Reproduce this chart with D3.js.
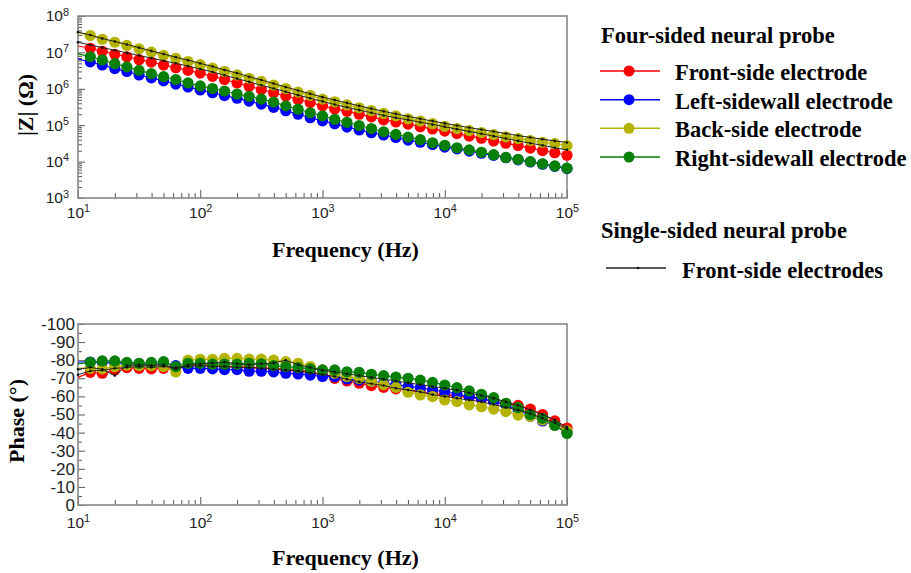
<!DOCTYPE html>
<html>
<head>
<meta charset="utf-8">
<script src="https://cdn.jsdelivr.net/npm/d3@7"></script>
<style>
  body { margin: 0; background: #fff; }
  svg { display: block; }
</style>
</head>
<body>
<script>

// frequencies (Hz), 10 points per decade
var freq = [10, 12.6, 15.8, 20, 25.1, 31.6, 39.8, 50.1, 63.1, 79.4,
  100, 126, 158, 200, 251, 316, 398, 501, 631, 794,
  1000, 1259, 1585, 1995, 2512, 3162, 3981, 5012, 6310, 7943,
  10000, 12589, 15849, 19953, 25119, 31623, 39811, 50119, 63096, 79433, 100000];

// |Z| in ohm, four-sided probe
var magFront = [1.5e7, 1.3e7, 1.07e7, 8.9e6, 7.6e6, 6.3e6, 5.4e6, 4.5e6, 3.8e6, 3.2e6,
  2.7e6, 2.2e6, 1.8e6, 1.45e6, 1.17e6, 9.5e5, 7.8e5, 6.3e5, 5.1e5, 4.2e5,
  3.4e5, 2.8e5, 2.4e5, 2.0e5, 1.7e5, 1.4e5, 1.23e5, 1.07e5, 9.1e4, 7.9e4,
  6.9e4, 5.9e4, 5.0e4, 4.4e4, 3.7e4, 3.2e4, 2.75e4, 2.35e4, 2.0e4, 1.75e4, 1.5e4];
var magLeft = [6.6e6, 5.5e6, 4.5e6, 3.6e6, 3.0e6, 2.4e6, 2.0e6, 1.66e6, 1.35e6, 1.12e6,
  9.3e5, 7.8e5, 6.5e5, 5.5e5, 4.6e5, 3.8e5, 3.1e5, 2.5e5, 2.0e5, 1.6e5,
  1.32e5, 1.1e5, 8.9e4, 7.4e4, 6.2e4, 5.4e4, 4.6e4, 3.9e4, 3.4e4, 2.95e4,
  2.5e4, 2.25e4, 1.95e4, 1.7e4, 1.48e4, 1.28e4, 1.12e4, 9.8e3, 8.5e3, 7.4e3, 6.4e3];
var magBack = [3.5e7, 2.9e7, 2.3e7, 1.9e7, 1.55e7, 1.26e7, 1.02e7, 8.3e6, 6.9e6, 5.6e6,
  4.6e6, 3.7e6, 3.0e6, 2.4e6, 1.95e6, 1.6e6, 1.26e6, 1.02e6, 8.1e5, 6.6e5,
  5.2e5, 4.4e5, 3.6e5, 3.0e5, 2.5e5, 2.1e5, 1.8e5, 1.5e5, 1.3e5, 1.1e5,
  9.3e4, 8.1e4, 7.1e4, 6.3e4, 5.5e4, 4.8e4, 4.3e4, 3.8e4, 3.4e4, 3.1e4, 2.75e4];
var magRight = [9.1e6, 7.6e6, 6.2e6, 4.9e6, 4.0e6, 3.2e6, 2.6e6, 2.15e6, 1.8e6, 1.45e6,
  1.2e6, 1.02e6, 8.7e5, 7.2e5, 6.2e5, 5.2e5, 4.3e5, 3.4e5, 2.75e5, 2.2e5,
  1.8e5, 1.45e5, 1.2e5, 9.8e4, 8.1e4, 6.6e4, 5.6e4, 4.7e4, 4.0e4, 3.3e4,
  2.8e4, 2.4e4, 2.1e4, 1.8e4, 1.55e4, 1.3e4, 1.15e4, 1.0e4, 8.7e3, 7.6e3, 6.6e3];

// |Z| single-sided probe, front-side electrodes
var magSingleA = [3.6e7, 3.0e7, 2.4e7, 2.0e7, 1.65e7, 1.35e7, 1.1e7, 9.0e6, 7.4e6, 6.1e6,
  5.0e6, 4.1e6, 3.3e6, 2.7e6, 2.15e6, 1.75e6, 1.4e6, 1.12e6, 9.0e5, 7.3e5,
  5.9e5, 4.9e5, 4.1e5, 3.4e5, 2.85e5, 2.4e5, 2.05e5, 1.75e5, 1.5e5, 1.3e5,
  1.12e5, 9.8e4, 8.6e4, 7.6e4, 6.7e4, 5.9e4, 5.2e4, 4.6e4, 4.1e4, 3.7e4, 3.35e4];
var magSingleB = [1.9e7, 1.6e7, 1.35e7, 1.15e7, 9.7e6, 8.2e6, 7.0e6, 5.9e6, 5.0e6, 4.2e6,
  3.5e6, 2.9e6, 2.35e6, 1.9e6, 1.55e6, 1.25e6, 1.02e6, 8.3e5, 6.7e5, 5.5e5,
  4.5e5, 3.7e5, 3.1e5, 2.6e5, 2.2e5, 1.85e5, 1.6e5, 1.4e5, 1.2e5, 1.05e5,
  9.0e4, 7.8e4, 6.7e4, 5.8e4, 5.0e4, 4.3e4, 3.7e4, 3.2e4, 2.8e4, 2.4e4, 2.1e4];

// phase in degrees, four-sided probe
var phFront = [-70.5, -73.3, -72.8, -74.6, -75.9, -75.5, -75.2, -75.5, -76, -77,
  -77.5, -77, -76.5, -76.5, -76, -75.8, -75.5, -75, -74.5, -73.5,
  -72, -70, -68.5, -67.3, -66, -65, -64.2, -63.5, -62.5, -61.5,
  -60.8, -60.3, -59.5, -58.5, -57.2, -56, -55, -53, -50, -46.5, -42.5];
var phLeft = [-79, -79, -78.8, -78.5, -78.3, -78, -77.8, -77.8, -77, -75.5,
  -75.5, -75.2, -74.8, -74.8, -73.9, -73.9, -73.6, -72.8, -72.4, -71.8,
  -71, -70.9, -69.6, -69, -68.3, -67.3, -66.5, -65.4, -64.8, -63.5,
  -62.7, -61.2, -59.9, -59, -57.1, -55.3, -52.5, -49, -46.4, -44, -40.5];
var phBack = [-75.7, -75.5, -75.2, -76.5, -77.3, -77, -77, -76.5, -73.5, -80,
  -80.5, -80.5, -81, -81, -80.6, -80.6, -80, -79.2, -78.3, -76.5,
  -74.6, -72.8, -71, -70, -68.3, -66.5, -65, -62.3, -60.8, -59.9,
  -58, -57.1, -55.3, -54.3, -53, -51.6, -49.7, -49, -47, -44, -41];
var phRight = [-78, -78.8, -79.6, -79.6, -78.8, -78.3, -78.8, -79.2, -76.5, -78.3,
  -78.3, -77.8, -77.8, -77.8, -78.3, -78, -77, -76.5, -75.9, -75.2,
  -74.6, -74.6, -73.6, -73.3, -72.2, -71.5, -70.7, -70, -69, -67.7,
  -66.3, -64.8, -63, -61.2, -59.3, -56.2, -53.8, -50, -47.9, -44, -39.5];

// phase single-sided probe
var phSingleA = [-75, -76, -75, -71.5, -77, -77.5, -77, -77.5, -75, -77.5,
  -78, -78.5, -79, -78, -77.5, -78, -78.5, -80, -77.5, -76,
  -74.5, -73.5, -72.5, -71.5, -70.5, -69.5, -68.5, -67.5, -66.5, -65.5,
  -64.5, -63.5, -62, -60.5, -59, -57, -55, -52.5, -50, -47, -43];
var phSingleB = [-72, -74, -74.5, -75.5, -76, -76.5, -76, -76.5, -76, -76.5,
  -77, -76.5, -76.5, -76, -76, -75.5, -75, -74.5, -74, -73,
  -72, -71, -69.5, -68, -67, -66, -64.5, -63.5, -62.5, -61,
  -60, -59, -58, -57, -55.5, -54, -52.5, -50.5, -48, -45.5, -42];

var seriesNames = ["Front-side electrode", "Left-sidewall electrode", "Back-side electrode", "Right-sidewall electrode"];
var seriesColors = ["#ff0000", "#0000ff", "#b4b400", "#088008"];
var singleName = "Front-side electrodes";

var freqTicks = [10, 100, 1000, 10000, 100000];
var magTicks = [1e3, 1e4, 1e5, 1e6, 1e7, 1e8];
var phaseTicks = [0, -10, -20, -30, -40, -50, -60, -70, -80, -90, -100];
var phaseMinor = [-5, -15, -25, -35, -45, -55, -65, -75, -85, -95];

var width = 911, height = 573;
var serif = "'Liberation Serif','Times New Roman',serif";
var sans = "'Liberation Sans',Arial,sans-serif";

var svg = d3.select("body").append("svg")
  .attr("width", width)
  .attr("height", height);

var left = 78, right = 567;
var x = d3.scaleLog().domain([10, 1e5]).range([left, right]);
var freqMinor = x.ticks().filter(function(d) { return freqTicks.indexOf(d) < 0; });

function powerLabel(sel) {
  sel.each(function(d) {
    var t = d3.select(this).text("");
    t.append("tspan").text("10");
    t.append("tspan").attr("dy", "-0.55em").attr("font-size", "0.7em")
      .text(Math.round(Math.log10(d)));
  });
}

function styleAxis(g) {
  g.select(".domain").remove();
  g.selectAll("line").attr("stroke", "#555").attr("stroke-width", 1);
  g.selectAll("text").attr("fill", "#222").attr("font-family", sans).attr("font-size", "15.5px");
}

function drawPanel(p) {
  var g = svg.append("g");
  var y = p.y;

  // x ticks (pointing inward)
  g.append("g").attr("transform", "translate(0," + p.bottom + ")")
    .call(d3.axisBottom(x).tickValues(freqMinor).tickSize(-5).tickFormat(""))
    .call(styleAxis);
  var xa = g.append("g").attr("transform", "translate(0," + p.bottom + ")")
    .call(d3.axisBottom(x).tickValues(freqTicks).tickSize(-8).tickPadding(p.xPad))
    .call(styleAxis);
  xa.selectAll("text").call(powerLabel);

  // y ticks
  g.append("g").attr("transform", "translate(" + left + ",0)")
    .call(d3.axisLeft(y).tickValues(p.yMinor).tickSize(-4).tickFormat(""))
    .call(styleAxis);
  var ya = g.append("g").attr("transform", "translate(" + left + ",0)")
    .call(d3.axisLeft(y).tickValues(p.yMajor).tickSize(-7).tickPadding(p.yPad)
      .tickFormat(p.log ? null : function(d) { return String(d); }))
    .call(styleAxis);
  if (p.log) ya.selectAll("text").call(powerLabel);
  else ya.selectAll("text").attr("font-size", "17px");

  // frame
  g.append("rect")
    .attr("x", left).attr("y", p.top)
    .attr("width", right - left).attr("height", p.bottom - p.top)
    .attr("fill", "none").attr("stroke", "#888").attr("stroke-width", 1.6);

  var line = d3.line()
    .x(function(d, i) { return x(freq[i]); })
    .y(function(d) { return y(d); });

  // four-sided probe series
  p.series.forEach(function(s, k) {
    g.append("path").datum(s)
      .attr("d", line).attr("fill", "none")
      .attr("stroke", seriesColors[k]).attr("stroke-width", 1.2);
    g.selectAll(null).data(s.slice(1)).enter().append("circle")
      .attr("cx", function(d, i) { return x(freq[i + 1]); })
      .attr("cy", function(d) { return y(d); })
      .attr("r", 5.6)
      .attr("fill", seriesColors[k]);
  });

  // single-sided probe
  p.singles.forEach(function(s) {
    g.append("path").datum(s)
      .attr("d", line).attr("fill", "none")
      .attr("stroke", "#222").attr("stroke-width", 1);
    g.selectAll(null).data(s).enter().append("circle")
      .attr("cx", function(d, i) { return x(freq[i]); })
      .attr("cy", function(d) { return y(d); })
      .attr("r", 1.3)
      .attr("fill", "#111");
  });

  // titles
  g.append("text")
    .attr("x", 272).attr("y", p.xTitleY)
    .attr("font-family", serif).attr("font-weight", "bold").attr("font-size", "22px")
    .text("Frequency (Hz)");
  g.append("text")
    .attr("transform", "translate(" + p.yTitleX + "," + p.yTitleY + ") rotate(-90)")
    .attr("text-anchor", "middle")
    .attr("font-family", serif).attr("font-weight", "bold").attr("font-size", "22px")
    .text(p.yTitle);
}

var magMinor = [];
magTicks.slice(0, -1).forEach(function(t) {
  [2, 3, 4, 5, 6, 7, 8, 9].forEach(function(m) { magMinor.push(t * m); });
});

drawPanel({
  top: 16, bottom: 198, log: true,
  y: d3.scaleLog().domain([1e3, 1e8]).range([198, 16]),
  yMajor: magTicks, yMinor: magMinor, yPad: 9, xPad: 9,
  series: [magFront, magLeft, magBack, magRight],
  singles: [magSingleB, magSingleA],
  xTitleY: 257, yTitle: "|Z| (\u03A9)", yTitleX: 33, yTitleY: 105
});

drawPanel({
  top: 324, bottom: 505, log: false,
  y: d3.scaleLinear().domain([0, -100]).range([505, 324]),
  yMajor: phaseTicks, yMinor: phaseMinor, yPad: 3, xPad: 12,
  series: [phFront, phLeft, phBack, phRight],
  singles: [phSingleB, phSingleA],
  xTitleY: 565, yTitle: "Phase (\u00B0)", yTitleX: 24, yTitleY: 421
});

// legend
var lg = svg.append("g").attr("font-family", serif).attr("font-weight", "bold").attr("font-size", "22.5px");
lg.append("text").attr("x", 601).attr("y", 43).text("Four-sided neural probe");
var rowY = d3.scaleLinear().domain([0, 3]).range([71, 157]);
seriesNames.forEach(function(name, k) {
  var yy = rowY(k);
  lg.append("line").attr("x1", 600).attr("x2", 660).attr("y1", yy).attr("y2", yy)
    .attr("stroke", seriesColors[k]).attr("stroke-width", 1.5);
  lg.append("circle").attr("cx", 629).attr("cy", yy).attr("r", 5.5).attr("fill", seriesColors[k]);
  lg.append("text").attr("x", 675).attr("y", yy + 9).text(name);
});
lg.append("text").attr("x", 601).attr("y", 238).text("Single-sided neural probe");
lg.append("line").attr("x1", 606).attr("x2", 666).attr("y1", 268).attr("y2", 268)
  .attr("stroke", "#222").attr("stroke-width", 1.5);
lg.append("circle").attr("cx", 638).attr("cy", 268).attr("r", 1.3).attr("fill", "#111");
lg.append("text").attr("x", 682).attr("y", 278).text(singleName);

</script>
</body>
</html>
